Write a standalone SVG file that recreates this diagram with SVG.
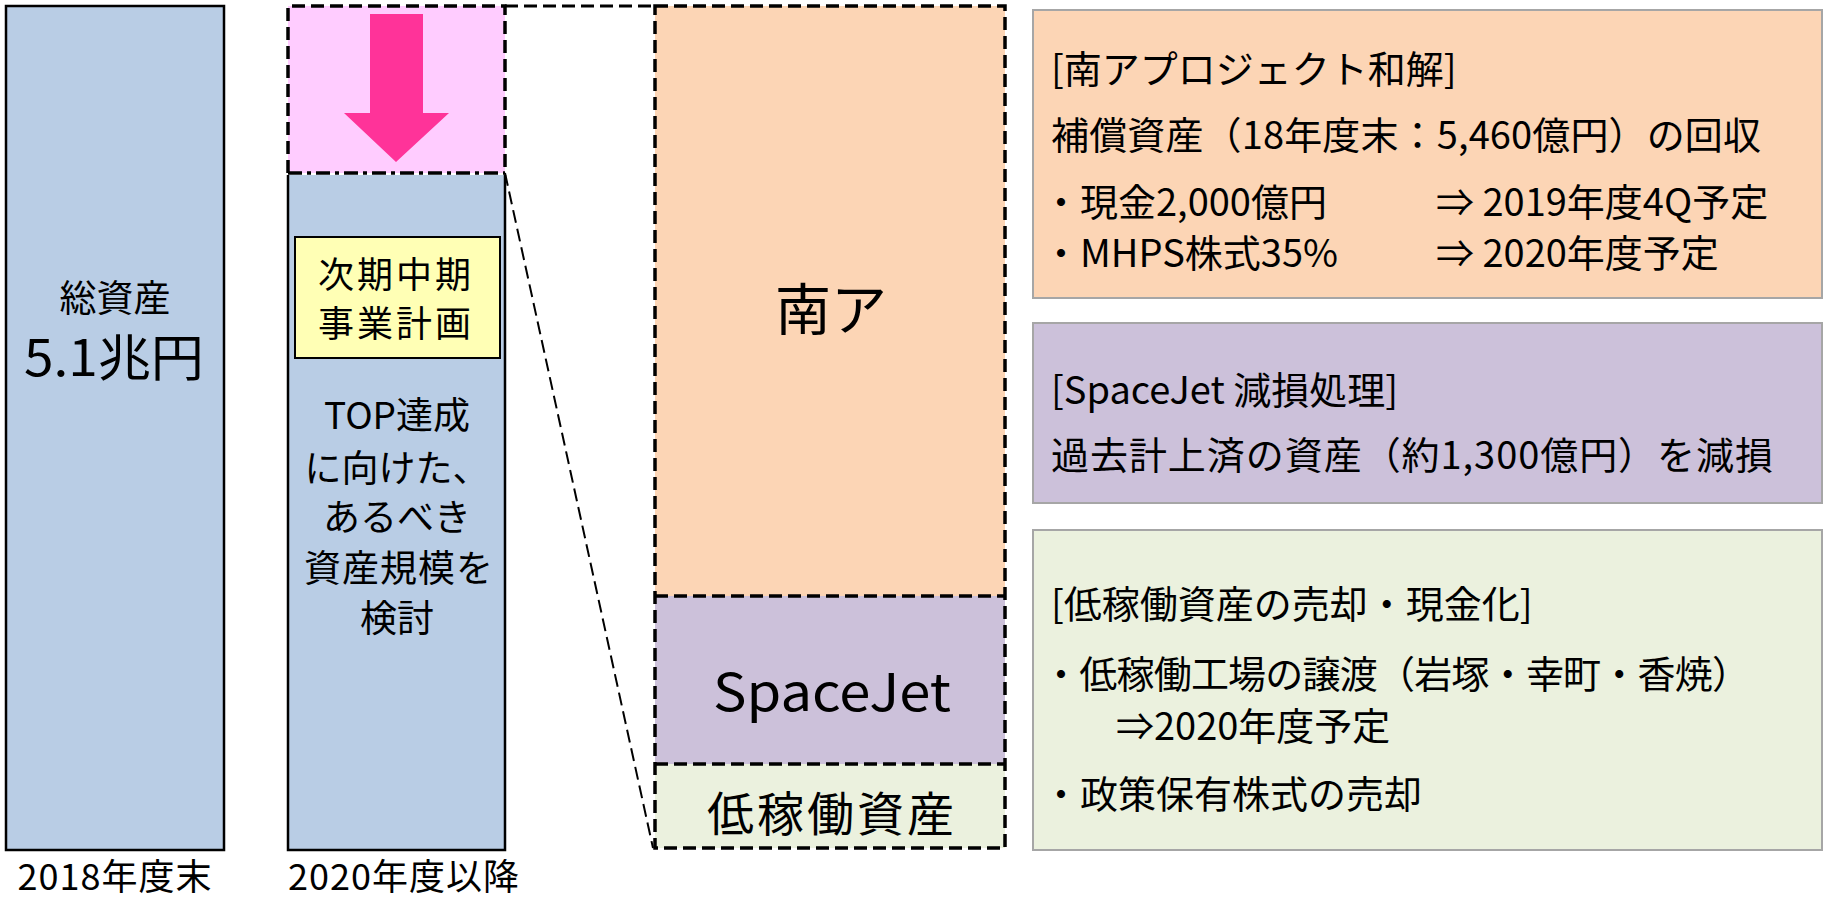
<svg xmlns="http://www.w3.org/2000/svg" width="1825" height="902" viewBox="0 0 1825 902">
<style>
text{font-family:"Noto Sans CJK JP","Noto Sans",sans-serif;fill:#000;dominant-baseline:central}
.c{text-anchor:middle}
.l{font-size:37px}
.r{font-size:38px}
.dash{fill:none;stroke:#000;stroke-width:3.5;stroke-dasharray:13 6}
.side{stroke:#A6A6A6;stroke-width:2}
</style>
<rect width="1825" height="902" fill="#fff"/>

<g id="connectors">
<line x1="505" y1="6" x2="655" y2="6" stroke="#000" stroke-width="3" stroke-dasharray="13 6"/>
<line x1="505" y1="173" x2="653" y2="848" stroke="#000" stroke-width="2" stroke-dasharray="13 6"/>
</g>

<g id="bar-2018">
<rect x="6" y="6" width="218" height="844" fill="#B9CDE5" stroke="#000" stroke-width="2.5"/>
<text class="c l" x="115" y="296">総資産</text>
<text class="c" x="114" y="354" font-size="50" textLength="180" lengthAdjust="spacingAndGlyphs">5.1兆円</text>
<text class="c" x="115" y="874" font-size="36" letter-spacing="1">2018年度末</text>
</g>

<g id="bar-2020">
<rect x="288" y="6" width="217" height="167" fill="#FFCCFF"/>
<path d="M288,173 V6 H505 V173" class="dash"/>
<line x1="288" y1="173" x2="505" y2="173" stroke="#000" stroke-width="3.5" stroke-dasharray="14 5 4 5"/>
<polygon points="370,14 423,14 423,113 449,113 396,162 344,113 370,113" fill="#FF3399"/>
<rect x="288" y="175" width="217" height="675" fill="#B9CDE5"/>
<path d="M288,175 V850 H505 V175" fill="none" stroke="#000" stroke-width="2.5"/>
<text class="c" x="404" y="874" font-size="36" letter-spacing="1">2020年度以降</text>
</g>

<g id="plan-box">
<rect x="295" y="237" width="205" height="121" fill="#FFFFB5" stroke="#000" stroke-width="2"/>
<text class="c" x="396" y="272" font-size="36" letter-spacing="3">次期中期</text>
<text class="c" x="396" y="321" font-size="36" letter-spacing="3">事業計画</text>
</g>

<g id="top-text">
<text class="c l" x="397" y="413">TOP達成</text>
<text class="c l" x="397" y="466">に向けた、</text>
<text class="c l" x="397" y="515">あるべき</text>
<text class="c l" x="399" y="566" letter-spacing="1">資産規模を</text>
<text class="c l" x="397" y="616">検討</text>
</g>

<g id="breakdown">
<rect x="655" y="6" width="350" height="590" fill="#FCD5B5"/>
<rect x="655" y="596" width="350" height="168" fill="#CCC1DA"/>
<rect x="655" y="764" width="350" height="84" fill="#EBF1DE"/>
<rect x="655" y="6" width="350" height="842" class="dash"/>
<line x1="655" y1="596" x2="1005" y2="596" class="dash"/>
<line x1="655" y1="764" x2="1005" y2="764" class="dash"/>
<text class="c" x="831" y="305" font-size="56">南ア</text>
<text class="c" x="832" y="688" font-size="52" textLength="238" lengthAdjust="spacingAndGlyphs">SpaceJet</text>
<text class="c" x="832" y="810" font-size="47" letter-spacing="3">低稼働資産</text>
</g>

<g id="note-minami">
<rect x="1033" y="10" width="789" height="288" fill="#FCD5B5" class="side"/>
<text class="r" x="1051" y="66">[南アプロジェクト和解]</text>
<text class="r" x="1051" y="132" textLength="710" lengthAdjust="spacing">補償資産（18年度末：5,460億円）の回収</text>
<text class="r" x="1042" y="199">・現金2,000億円</text>
<text class="r" x="1436" y="199">⇒ 2019年度4Q予定</text>
<text class="r" x="1042" y="250">・MHPS株式35%</text>
<text class="r" x="1436" y="250">⇒ 2020年度予定</text>
</g>

<g id="note-spacejet">
<rect x="1033" y="323" width="789" height="180" fill="#CCC1DA" class="side"/>
<text class="r" x="1051" y="387">[SpaceJet 減損処理]</text>
<text class="r" x="1051" y="452" textLength="722" lengthAdjust="spacing">過去計上済の資産（約1,300億円）を減損</text>
</g>

<g id="note-lowutil">
<rect x="1033" y="530" width="789" height="320" fill="#EBF1DE" class="side"/>
<text class="r" x="1051" y="601">[低稼働資産の売却・現金化]</text>
<text class="r" x="1042" y="671" textLength="708" lengthAdjust="spacing">・低稼働工場の譲渡（岩塚・幸町・香焼）</text>
<text class="r" x="1116" y="723">⇒2020年度予定</text>
<text class="r" x="1042" y="791">・政策保有株式の売却</text>
</g>
</svg>
